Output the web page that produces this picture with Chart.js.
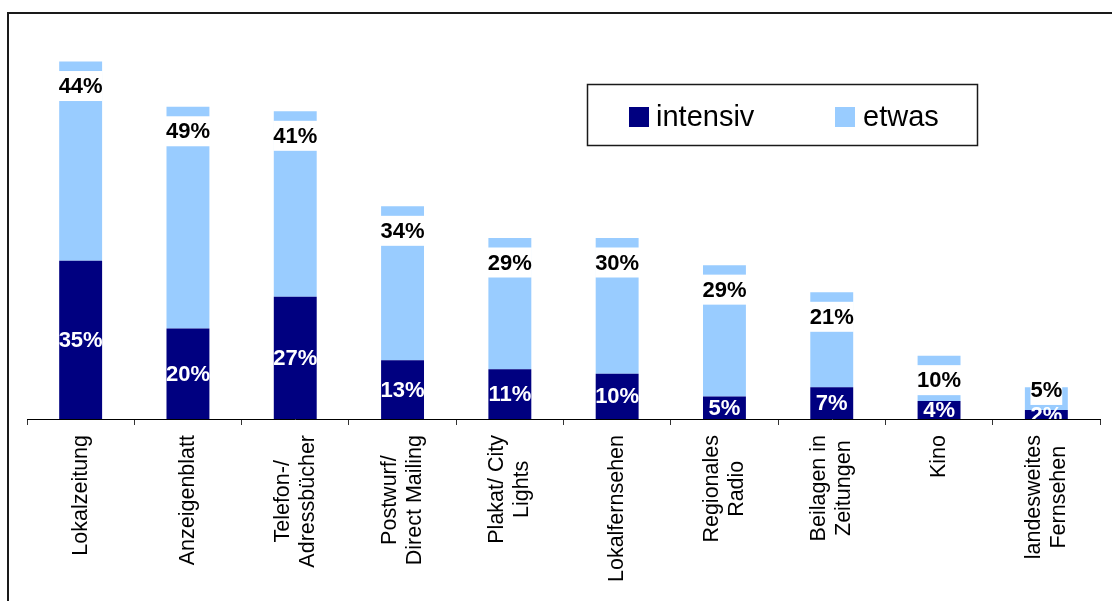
<!DOCTYPE html>
<html>
<head>
<meta charset="utf-8">
<script src="https://cdn.jsdelivr.net/npm/chart.js@4/dist/chart.umd.min.js"></script>
<style>
  html, body { margin: 0; padding: 0; background: #fff; }
  #wrap { position: relative; width: 1112px; height: 601px; }
</style>
</head>
<body>
<div id="wrap"><canvas id="c" width="1112" height="601"></canvas></div>
<script>
const categories = [
  ['Lokalzeitung'],
  ['Anzeigenblatt'],
  ['Telefon-/', 'Adressbücher'],
  ['Postwurf/', 'Direct Mailing'],
  ['Plakat/ City', 'Lights'],
  ['Lokalfernsehen'],
  ['Regionales', 'Radio'],
  ['Beilagen in', 'Zeitungen'],
  ['Kino'],
  ['landesweites', 'Fernsehen']
];
const intensiv = [35, 20, 27, 13, 11, 10, 5, 7, 4, 2];
const etwas = [44, 49, 41, 34, 29, 30, 29, 21, 10, 5];
const seriesNames = ['intensiv', 'etwas'];
const seriesColors = ['#000080', '#99CCFF'];

const FONT = '"Liberation Sans", Arial, Helvetica, sans-serif';

const framePlugin = {
  id: 'frame',
  afterDraw(chart) {
    const ctx = chart.ctx;
    ctx.save();
    ctx.strokeStyle = '#1a1a1a';
    ctx.lineWidth = 2;
    ctx.strokeRect(8, 13, 1300, 800);
    ctx.restore();
  }
};

const valueLabels = {
  id: 'valueLabels',
  afterDatasetsDraw(chart) {
    const ctx = chart.ctx;
    const area = chart.chartArea;
    const m0 = chart.getDatasetMeta(0);
    const m1 = chart.getDatasetMeta(1);
    ctx.save();
    ctx.font = 'bold 22px ' + FONT;
    ctx.textAlign = 'center';
    ctx.textBaseline = 'middle';
    // intensiv labels (white, centred, clipped to plot area)
    ctx.save();
    ctx.beginPath();
    ctx.rect(area.left, area.top, area.right - area.left, area.bottom - area.top);
    ctx.clip();
    ctx.fillStyle = '#ffffff';
    m0.data.forEach((el, i) => {
      const cy = (el.y + el.base) / 2;
      ctx.fillText(intensiv[i] + '%', el.x, cy + 1);
    });
    ctx.restore();
    // etwas labels (black on white box near the top of the segment)
    m1.data.forEach((el, i) => {
      const txt = etwas[i] + '%';
      const w = ctx.measureText(txt).width;
      const cy = Math.min(el.y + 24.5, el.base - 20);
      ctx.fillStyle = '#ffffff';
      ctx.fillRect(el.x - w / 2, cy - 15, w, 30);
      ctx.fillStyle = '#000000';
      ctx.fillText(txt, el.x, cy + 1);
    });
    ctx.restore();
  }
};

const categoryLabels = {
  id: 'categoryLabels',
  afterDraw(chart) {
    const ctx = chart.ctx;
    const xs = chart.scales.x;
    const top = chart.chartArea.bottom + 16;
    const lh = 25;
    ctx.save();
    ctx.font = '21.5px ' + FONT;
    ctx.fillStyle = '#000000';
    ctx.textAlign = 'center';
    ctx.textBaseline = 'middle';
    categories.forEach((lines, i) => {
      const x = xs.getPixelForValue(i);
      const maxW = Math.max(...lines.map(l => ctx.measureText(l).width));
      ctx.save();
      ctx.translate(x, top);
      ctx.rotate(-Math.PI / 2);
      lines.forEach((l, j) => {
        const off = (j - (lines.length - 1) / 2) * lh;
        ctx.fillText(l, -maxW / 2, off);
      });
      ctx.restore();
    });
    ctx.restore();
  }
};

const boxLegend = {
  id: 'boxLegend',
  afterDraw(chart) {
    const ctx = chart.ctx;
    ctx.save();
    ctx.strokeStyle = '#1a1a1a';
    ctx.lineWidth = 1.5;
    ctx.fillStyle = '#ffffff';
    ctx.fillRect(587, 84, 391, 62);
    ctx.strokeRect(587.5, 84.5, 390, 61);
    const items = [{ sx: 629, tx: 656 }, { sx: 835, tx: 863 }];
    ctx.font = '29px ' + FONT;
    ctx.textBaseline = 'alphabetic';
    ctx.textAlign = 'left';
    chart.data.datasets.forEach((ds, i) => {
      ctx.fillStyle = ds.backgroundColor;
      ctx.fillRect(items[i].sx, 107, 20, 20);
      ctx.fillStyle = '#000000';
      ctx.fillText(ds.label, items[i].tx, 126);
    });
    ctx.restore();
  }
};

new Chart(document.getElementById('c'), {
  type: 'bar',
  data: {
    labels: categories,
    datasets: [
      { label: seriesNames[0], data: intensiv, backgroundColor: seriesColors[0], borderWidth: 0 },
      { label: seriesNames[1], data: etwas, backgroundColor: seriesColors[1], borderWidth: 0 }
    ]
  },
  options: {
    responsive: false,
    animation: false,
    events: [],
    layout: { padding: { top: 57, left: 27, right: 12, bottom: 0 } },
    datasets: { bar: { barPercentage: 0.4, categoryPercentage: 1.0 } },
    plugins: { legend: { display: false }, tooltip: { enabled: false } },
    scales: {
      x: {
        stacked: true,
        offset: true,
        grid: {
          display: true,
          offset: true,
          drawOnChartArea: false,
          drawTicks: true,
          tickLength: 6,
          color: '#333333',
          lineWidth: 1
        },
        border: { display: true, color: '#000000', width: 1 },
        ticks: { display: false },
        afterFit(scale) { scale.height = 182; }
      },
      y: {
        stacked: true,
        display: false,
        min: 0,
        max: 80
      }
    }
  },
  plugins: [valueLabels, categoryLabels, boxLegend, framePlugin]
});
</script>
</body>
</html>
